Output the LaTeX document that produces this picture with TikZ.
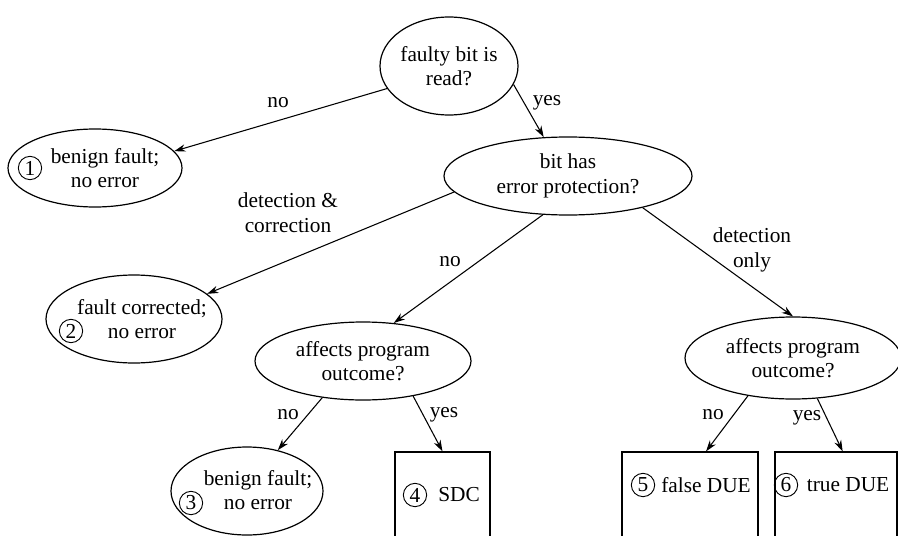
\documentclass[tikz,border=0pt]{standalone}
\usepackage{fontspec}
\setmainfont{Liberation Serif}
\usetikzlibrary{arrows.meta,shapes.geometric}
\begin{document}
\begin{tikzpicture}[x=0.75pt,y=-0.75pt,
  every node/.style={font=\fontsize{16}{18.5}\selectfont},
  q/.style={ellipse,draw,line width=0.9pt,inner sep=0pt,align=center},
  outc/.style={rectangle,draw,line width=0.9pt,inner sep=0pt},
  num/.style={circle,draw,line width=0.7pt,inner sep=0pt,minimum size=17.5pt},
  arr/.style={-{Stealth[length=8.5pt,width=5.5pt]},line width=0.8pt},
  lbl/.style={align=center,inner sep=0pt}]
\useasboundingbox (0,0) rectangle (898,535);
\clip (0,0) rectangle (898,535);

% decision ellipses
\node[q,minimum width=103.5pt,minimum height=73.5pt] (A) at (449,66) {faulty bit is\\read?};
\node[q,minimum width=186pt,minimum height=58.5pt] (B) at (568,176) {bit has\\error protection?};
\node[q,minimum width=162pt,minimum height=58.5pt] (C) at (363,361) {affects program\\outcome?};
\node[q,minimum width=162pt,minimum height=61.5pt] (D) at (793,358) {affects program\\outcome?};

% outcome ellipses
\node[q,minimum width=130.5pt,minimum height=58.5pt] (E1) at (95,168) {};
\node[lbl] (t1) at (105,168) {benign fault;\\no error};
\node[num] (n1) at (30,168) {1};

\node[q,minimum width=132pt,minimum height=66pt] (E2) at (134,319) {};
\node[lbl] (t2) at (142,319) {fault corrected;\\no error};
\node[num] (n2) at (71,331) {2};

\node[q,minimum width=114pt,minimum height=66pt] (E3) at (247,491) {};
\node[lbl] (t3) at (258,490) {benign fault;\\no error};
\node[num] (n3) at (191,503) {3};

% outcome boxes
\node[outc,minimum width=71.25pt,minimum height=75pt] (b4) at (442.5,502) {};
\node[num] (n4) at (415,495) {4};
\node[lbl] (t4) at (459,495) {SDC};

\node[outc,minimum width=102pt,minimum height=75pt] (b5) at (690,502) {};
\node[num] (n5) at (643,485) {5};
\node[lbl] (t5) at (706,485) {false DUE};

\node[outc,minimum width=91.5pt,minimum height=75pt] (b6) at (836,502) {};
\node[num] (n6) at (786,485) {6};
\node[lbl] (t6) at (848,485) {true DUE};

% connectors
\draw[arr] (A.200) -- (E1.12);
\draw[arr] (A.-16) -- (B.122);
\draw[arr] (B.188) -- (E2.19);
\draw[arr] (B.237) -- (C.51);
\draw[arr] (B.-23) -- (D.north);
\draw[arr] (C.222) -- (E3.53);
\draw[arr] (C.-35) -- (b4.north);
\draw[arr] (D.220) -- ([xshift=12pt]b5.north);
\draw[arr] (D.-59) -- ([xshift=5pt]b6.north);

% labels
\node[lbl] (l1) at (278,103) {no};
\node[lbl] (l2) at (547,103) {yes};
\node[lbl] (l3) at (288,213) {detection \&\\correction};
\node[lbl] (l4) at (450,262) {no};
\node[lbl] (l5) at (752,250) {detection\\only};
\node[lbl] (l6) at (288,415) {no};
\node[lbl] (l7) at (444,415) {yes};
\node[lbl] (l8) at (713,415) {no};
\node[lbl] (l9) at (807,418) {yes};
\end{tikzpicture}
\end{document}
